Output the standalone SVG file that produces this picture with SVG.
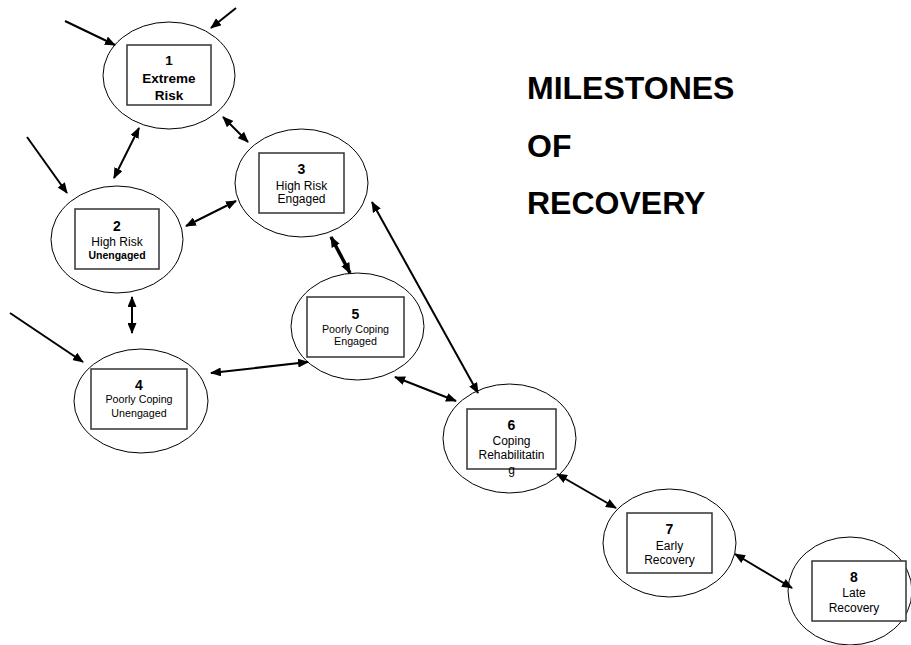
<svg xmlns="http://www.w3.org/2000/svg" width="911" height="645" viewBox="0 0 911 645">
<defs>
<marker id="ah" markerUnits="userSpaceOnUse" markerWidth="11" markerHeight="9" refX="10" refY="4.5" orient="auto-start-reverse" viewBox="0 0 11 9">
<path d="M0,0 L11,4.5 L0,9 z" fill="#000"/>
</marker>
</defs>
<style>
.ell{fill:#fff;stroke:#000;stroke-width:1}
.box{fill:#fff;stroke:#333;stroke-width:1.5}
text{font-family:"Liberation Sans",Arial,sans-serif;fill:#000;text-anchor:middle}
.num{font-size:14px;font-weight:bold}
.lbl{font-size:12px}
.sm{font-size:10.7px}
.title{font-size:32px;font-weight:bold;text-anchor:start}
.c{stroke:#000;stroke-width:2;fill:none;marker-end:url(#ah)}
.bi{marker-start:url(#ah)}
.thick{stroke-width:3.5}
</style>
<rect width="911" height="645" fill="#fff"/>
<g id="n1">
<ellipse class="ell" cx="169" cy="75.5" rx="66" ry="53.5"/>
<rect class="box" x="127" y="45" width="84" height="60"/>
<text x="169" y="65" style="font-size:13.5px;font-weight:bold">1</text>
<text x="169" y="83" style="font-size:13.5px;font-weight:bold">Extreme</text>
<text x="169" y="100" style="font-size:13.5px;font-weight:bold">Risk</text>
</g>
<g id="n2">
<ellipse class="ell" cx="117" cy="239.5" rx="66" ry="53.5"/>
<rect class="box" x="75" y="209" width="84" height="60"/>
<text class="num" x="117" y="231">2</text>
<text class="lbl" x="117" y="246">High Risk</text>
<text x="117" y="259" style="font-size:10.5px;font-weight:bold">Unengaged</text>
</g>
<g id="n3">
<ellipse class="ell" cx="301.5" cy="183" rx="66.5" ry="54"/>
<rect class="box" x="259" y="153" width="85" height="60"/>
<text class="num" x="301.5" y="174">3</text>
<text class="lbl" x="301.5" y="190">High Risk</text>
<text class="lbl" x="301.5" y="203">Engaged</text>
</g>
<g id="n4">
<ellipse class="ell" cx="141" cy="401" rx="67" ry="52"/>
<rect class="box" x="91" y="369" width="96" height="60"/>
<text class="num" x="139" y="390">4</text>
<text class="sm" x="139" y="403">Poorly Coping</text>
<text class="sm" x="139" y="417">Unengaged</text>
</g>
<g id="n5">
<ellipse class="ell" cx="357.5" cy="326.5" rx="66.5" ry="53.5"/>
<rect class="box" x="307" y="297" width="97" height="60"/>
<text class="num" x="355.5" y="319">5</text>
<text class="sm" x="355.5" y="333">Poorly Coping</text>
<text class="sm" x="355.5" y="345">Engaged</text>
</g>
<g id="n6">
<ellipse class="ell" cx="509.5" cy="438.5" rx="66.5" ry="54.5"/>
<rect class="box" x="467" y="409" width="89" height="60"/>
<text class="num" x="511.5" y="430">6</text>
<text class="lbl" x="511.5" y="445">Coping</text>
<text class="lbl" x="511.5" y="459">Rehabilitatin</text>
<text class="lbl" x="511.5" y="474">g</text>
</g>
<g id="n7">
<ellipse class="ell" cx="669.5" cy="543" rx="66.5" ry="54"/>
<rect class="box" x="627" y="513" width="85" height="60"/>
<text class="num" x="669.5" y="534">7</text>
<text class="lbl" x="669.5" y="550">Early</text>
<text class="lbl" x="669.5" y="564">Recovery</text>
</g>
<g id="n8">
<ellipse class="ell" cx="850" cy="591" rx="62" ry="54"/>
<rect class="box" x="812" y="561" width="94" height="60"/>
<text class="num" x="854" y="582">8</text>
<text class="lbl" x="854" y="597">Late</text>
<text class="lbl" x="854" y="612">Recovery</text>
</g>
<g id="title">
<text class="title" x="527" y="99">MILESTONES</text>
<text class="title" x="527" y="157">OF</text>
<text class="title" x="527" y="214">RECOVERY</text>
</g>
<g id="connectors">
<line class="c" x1="65" y1="21" x2="115" y2="45"/>
<line class="c" x1="236" y1="8" x2="211" y2="28"/>
<line class="c" x1="27" y1="137" x2="67" y2="193"/>
<line class="c" x1="10" y1="313" x2="83" y2="362"/>
<line class="c bi" x1="139" y1="128" x2="114" y2="178"/>
<line class="c bi" x1="223" y1="117" x2="248" y2="142"/>
<line class="c bi" x1="186" y1="226" x2="236" y2="201"/>
<line class="c bi" x1="132" y1="297" x2="132" y2="333"/>
<line class="c bi" x1="211" y1="373" x2="308" y2="362"/>
<line class="c bi thick" x1="331" y1="237" x2="350" y2="273"/>
<line class="c bi" x1="372" y1="202" x2="478" y2="393"/>
<line class="c bi" x1="395" y1="377" x2="456" y2="401"/>
<line class="c bi" x1="557" y1="474" x2="616" y2="508"/>
<line class="c bi" x1="735" y1="554" x2="792" y2="588"/>
</g>
</svg>
